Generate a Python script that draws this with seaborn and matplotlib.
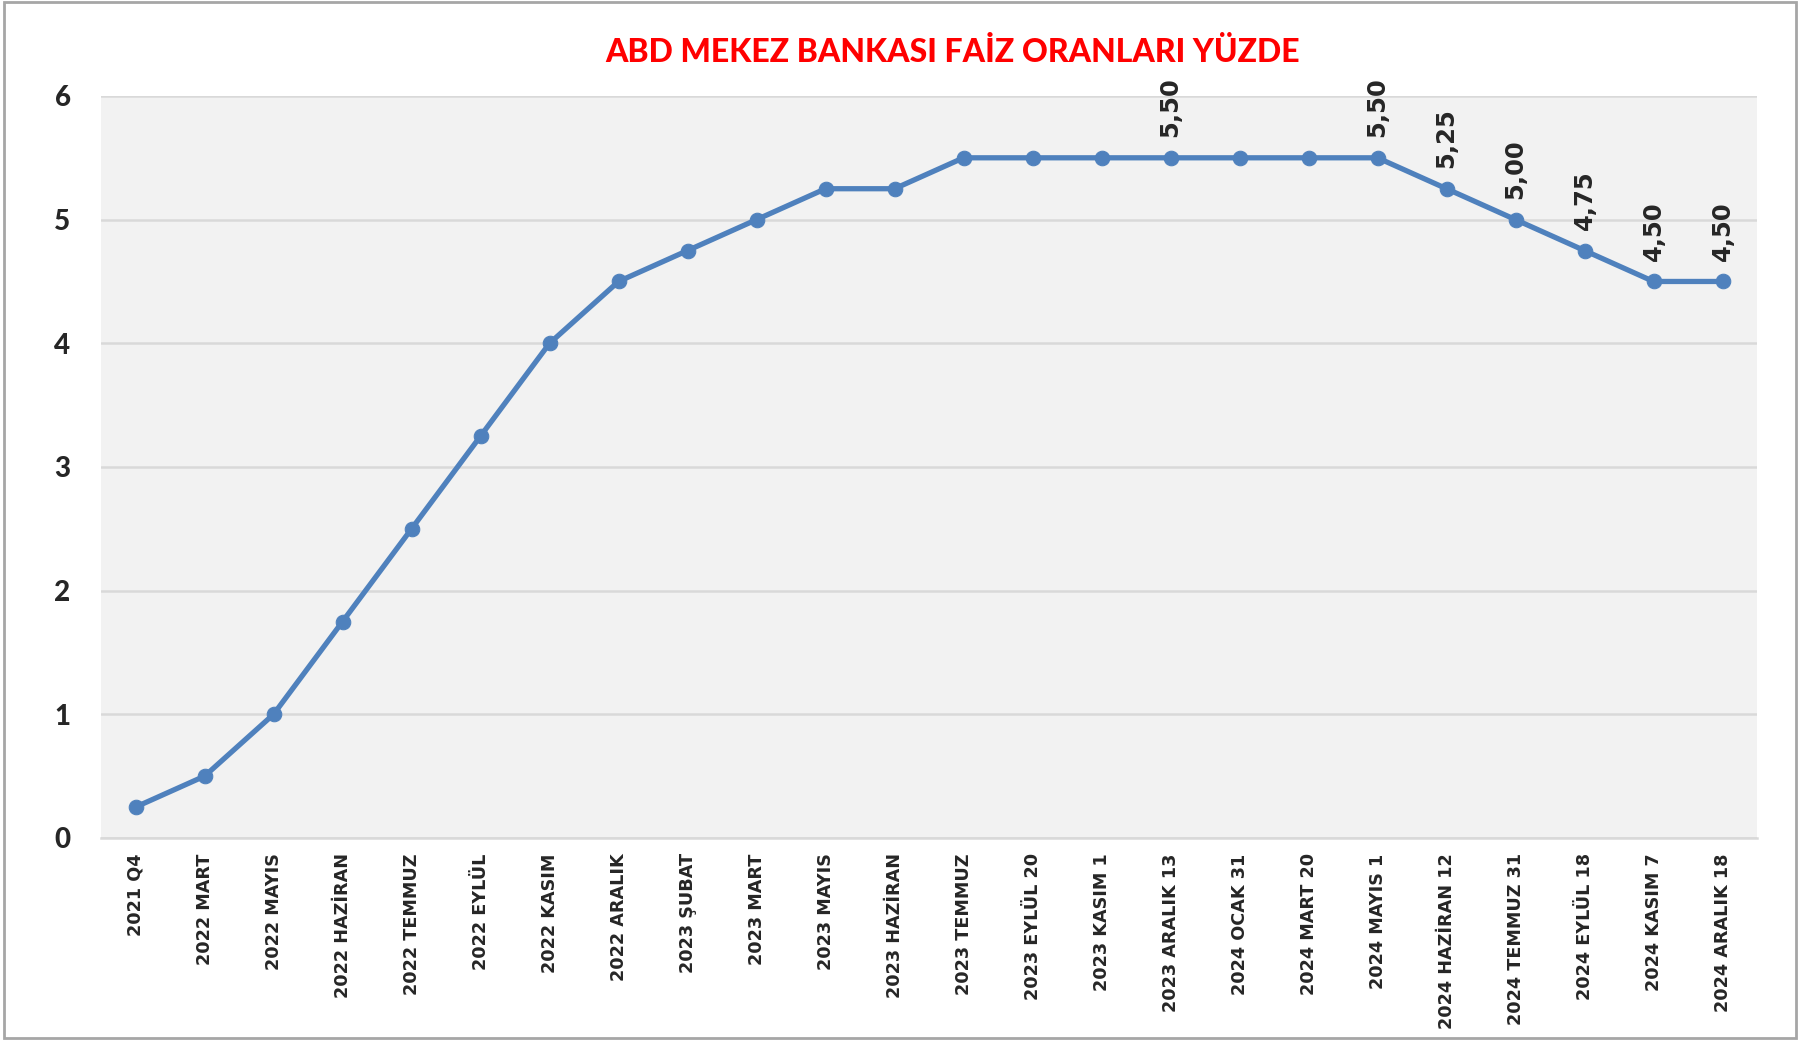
import matplotlib
matplotlib.use('Agg')
import matplotlib.pyplot as plt
import seaborn as sns
import pandas as pd
from matplotlib.patches import Rectangle


# Data
donemler = ['2021 Q4', '2022 MART', '2022 MAYIS', '2022 HAZİRAN', '2022 TEMMUZ',
            '2022 EYLÜL', '2022 KASIM', '2022 ARALIK', '2023 ŞUBAT', '2023 MART',
            '2023 MAYIS', '2023 HAZİRAN', '2023 TEMMUZ', '2023 EYLÜL 20',
            '2023 KASIM 1', '2023 ARALIK 13', '2024 OCAK 31', '2024 MART 20',
            '2024 MAYIS 1', '2024 HAZİRAN 12', '2024 TEMMUZ 31', '2024 EYLÜL 18',
            '2024 KASIM 7', '2024 ARALIK 18']
faiz = [0.25, 0.5, 1.0, 1.75, 2.5, 3.25, 4.0, 4.5, 4.75, 5.0, 5.25, 5.25, 5.5,
        5.5, 5.5, 5.5, 5.5, 5.5, 5.5, 5.25, 5.0, 4.75, 4.5, 4.5]
etiketli = ['2023 ARALIK 13', '2024 MAYIS 1', '2024 HAZİRAN 12', '2024 TEMMUZ 31',
            '2024 EYLÜL 18', '2024 KASIM 7', '2024 ARALIK 18']
y_ticks = [0, 1, 2, 3, 4, 5, 6]

df = pd.DataFrame({'donem': donemler, 'faiz': faiz})
df['sira'] = range(len(df))

sns.set_style('white')
fig = plt.figure(figsize=(18.08, 10.42), dpi=100)
ax = fig.add_axes([0.0559, 0.1958, 0.9159, 0.7121])
ax.set_facecolor('#f2f2f2')

blue = '#4f81bd'
sns.lineplot(data=df, x='sira', y='faiz', ax=ax, color=blue, linewidth=3.8,
             marker='o', markersize=10.5, markeredgecolor=blue, sort=False, zorder=3)

ax.set_xlim(-0.5, len(df) - 0.5)
ax.set_ylim(0, 6)
ax.set_yticks(y_ticks)
ax.set_xticks(df['sira'])
ax.set_xticklabels(df['donem'], rotation=90, fontsize=12.7, fontweight='bold',
                   family='DejaVu Sans', va='top', ha='center')
ax.set_yticklabels([str(v) for v in y_ticks], fontsize=20, fontweight='black', family='Lato')
ax.tick_params(axis='x', length=0, pad=11)
ax.tick_params(axis='y', length=0, pad=22)
ax.grid(axis='y', color='#d9d9d9', linewidth=1.8)
ax.set_axisbelow(True)
for s in ['top', 'right', 'left']:
    ax.spines[s].set_visible(False)
ax.spines['bottom'].set_color('#d9d9d9')
ax.spines['bottom'].set_linewidth(1.8)
ax.set_xlabel('')
ax.set_ylabel('')

# value labels for the later points
for _, r in df[df['donem'].isin(etiketli)].iterrows():
    ax.annotate(f"{r['faiz']:.2f}".replace('.', ','), (r['sira'], r['faiz']),
                xytext=(0, 15), textcoords='offset points', rotation=90,
                ha='center', va='bottom', fontsize=17.5, fontweight='bold',
                family='DejaVu Sans')

fig.text(0.527, 0.95, 'ABD MEKEZ BANKASI FAİZ ORANLARI YÜZDE', color='#ff0000',
         fontsize=23, fontweight='black', family='Lato', ha='center', va='center')

fig.patches.append(Rectangle((0.002, 0.004), 0.9915, 0.994, transform=fig.transFigure,
                             fill=False, edgecolor='#a6a6a6', linewidth=2))

fig.savefig('out.png', dpi=100)
